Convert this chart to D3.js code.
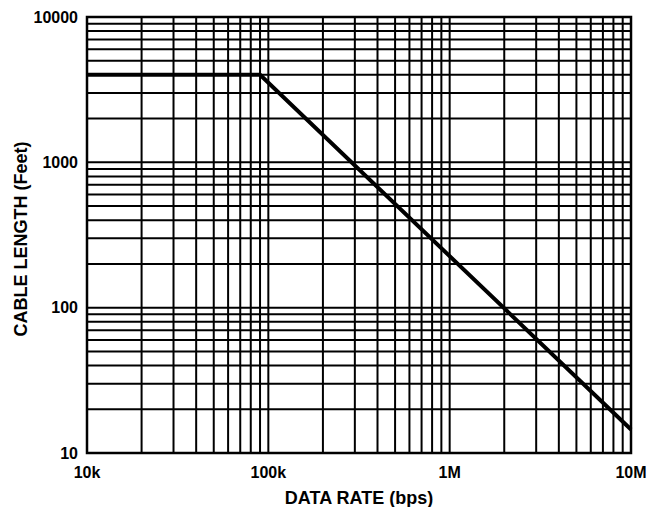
<!DOCTYPE html>
<html><head><meta charset="utf-8">
<script src="https://cdn.jsdelivr.net/npm/d3@7"></script>
<style>body{margin:0;background:#fff}svg{display:block}text{font-family:"Liberation Sans",Arial,sans-serif;font-weight:bold;fill:#000}</style>
</head><body><svg id="c" width="649" height="507"></svg>
<script>
const xTicks = [1e4, 1e5, 1e6, 1e7];
const xTickLabels = ["10k", "100k", "1M", "10M"];
const yTicks = [10, 100, 1000, 10000];
const yTickLabels = ["10", "100", "1000", "10000"];
const rate = [1e4, 9e4, 1e7];
const length = [4000, 4000, 14.5];

const svg = d3.select("#c");
const L = 87, R = 631, T = 17, B = 453;
const x = d3.scaleLog().domain([1e4, 1e7]).range([L, R]);
const y = d3.scaleLog().domain([10, 1e4]).range([B, T]);

const xg = [], yg = [];
for (let d = 1e4; d < 1e7; d *= 10) for (let m = 1; m <= 9; m++) xg.push(d * m);
for (let d = 10; d < 1e4; d *= 10) for (let m = 1; m <= 9; m++) yg.push(d * m);

const g = svg.append("g");
g.selectAll(".vx").data(xg).join("line")
  .attr("x1", d => x(d)).attr("x2", d => x(d)).attr("y1", T).attr("y2", B)
  .attr("stroke", "#000").attr("stroke-width", 2);
g.selectAll(".hy").data(yg).join("line")
  .attr("y1", d => y(d)).attr("y2", d => y(d)).attr("x1", L).attr("x2", R)
  .attr("stroke", "#000").attr("stroke-width", 2);
g.append("rect").attr("x", L).attr("y", T).attr("width", R - L).attr("height", B - T)
  .attr("fill", "none").attr("stroke", "#000").attr("stroke-width", 2.5);

const pts = rate.map((r, i) => [r, length[i]]);
g.append("path").datum(pts)
  .attr("d", d3.line().x(d => x(d[0])).y(d => y(d[1])))
  .attr("fill", "none").attr("stroke", "#000").attr("stroke-width", 4);

svg.selectAll(".xl").data(xTicks).join("text")
  .attr("x", d => x(d)).attr("y", 478).attr("text-anchor", "middle")
  .attr("font-size", 16).text((d, i) => xTickLabels[i]);
svg.selectAll(".yl").data(yTicks).join("text")
  .attr("x", 78).attr("y", d => y(d) + 5.5).attr("text-anchor", "end")
  .attr("font-size", 16).text((d, i) => yTickLabels[i]);

svg.append("text").attr("x", (L + R) / 2).attr("y", 504).attr("text-anchor", "middle")
  .attr("font-size", 18).text("DATA RATE (bps)");
svg.append("text").attr("transform", `translate(27,239) rotate(-90)`)
  .attr("text-anchor", "middle").attr("font-size", 18).text("CABLE LENGTH (Feet)");
</script></body></html>
